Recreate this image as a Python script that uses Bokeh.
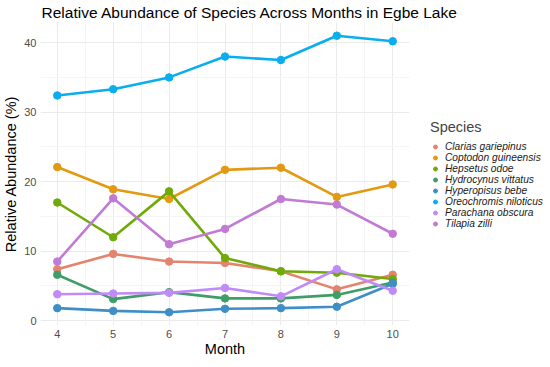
from bokeh.plotting import figure
from bokeh.models import Range1d, FixedTicker, Legend, LegendItem, ColumnDataSource
from bokeh.embed import file_html
from bokeh.resources import INLINE

months = [4, 5, 6, 7, 8, 9, 10]
species = ["Clarias gariepinus", "Coptodon guineensis", "Hepsetus odoe", "Hydrocynus vittatus",
           "Hyperopisus bebe", "Oreochromis niloticus", "Parachana obscura", "Tilapia zilli"]

clarias = [7.4, 9.6, 8.5, 8.3, 7.1, 4.5, 6.6]
coptodon = [22.1, 18.9, 17.5, 21.7, 22.0, 17.8, 19.6]
hepsetus = [17.0, 12.0, 18.6, 9.0, 7.1, 6.9, 6.0]
hydrocynus = [6.6, 3.1, 4.1, 3.2, 3.2, 3.7, 5.5]
hyperopisus = [1.8, 1.4, 1.2, 1.7, 1.8, 2.0, 5.3]
oreochromis = [32.4, 33.3, 35.0, 38.0, 37.5, 41.0, 40.2]
parachana = [3.8, 3.9, 4.0, 4.7, 3.5, 7.4, 4.3]
tilapia = [8.5, 17.6, 11.0, 13.2, 17.5, 16.7, 12.5]

series = [clarias, coptodon, hepsetus, hydrocynus, hyperopisus, oreochromis, parachana, tilapia]
colors = ["#E4846E", "#E39A12", "#6FAA08", "#3F9D66", "#3F8EC6", "#0AAEEE", "#C08AF8", "#C17BD5"]

y_ticks = [0, 10, 20, 30, 40]
x_ticks = months

p = figure(frame_width=369, frame_height=303, output_backend="svg", toolbar_location=None,
           x_range=Range1d(3.7, 10.3), y_range=Range1d(-0.7, 42.9),
           title="Relative Abundance of Species Across Months in Egbe Lake",
           min_border_left=0, min_border_right=0, min_border_top=0, min_border_bottom=1)
p.outline_line_color = None
p.background_fill_color = "white"
p.border_fill_color = "white"

p.title.text_font = "Liberation Sans"
p.title.text_font_size = "15.5px"
p.title.text_font_style = "normal"
p.title.text_color = "#000000"
p.title.align = "left"
p.title.standoff = 3
p.title.offset = 1

p.xaxis.ticker = FixedTicker(ticks=x_ticks, minor_ticks=[3.5, 4.5, 5.5, 6.5, 7.5, 8.5, 9.5, 10.5])
p.yaxis.ticker = FixedTicker(ticks=y_ticks, minor_ticks=[5, 15, 25, 35])

for ax in (p.xaxis[0], p.yaxis[0]):
    ax.axis_line_color = None
    ax.major_tick_line_color = None
    ax.minor_tick_line_color = None
    ax.major_tick_out = 0
    ax.minor_tick_out = 0
    ax.major_tick_in = 0
    ax.minor_tick_in = 0
    ax.major_label_text_font = "Liberation Sans"
    ax.major_label_text_font_size = "11px"
    ax.major_label_text_color = "#4D4D4D"
    ax.axis_label_text_font = "Liberation Sans"
    ax.axis_label_text_font_size = "14.5px"
    ax.axis_label_text_font_style = "normal"
    ax.axis_label_text_color = "#000000"
    ax.major_label_standoff = 4
    ax.axis_label_standoff = 2

p.xaxis.axis_label_standoff = 0
p.xaxis.axis_label = "Month"
p.yaxis.axis_label = "Relative Abundance (%)"

p.xgrid.grid_line_color = "#EBEBEB"
p.ygrid.grid_line_color = "#EBEBEB"
p.xgrid.minor_grid_line_color = "#F4F4F4"
p.ygrid.minor_grid_line_color = "#F4F4F4"

items = []
for name, vals, col in zip(species, series, colors):
    src = ColumnDataSource(dict(x=months, y=vals))
    p.line("x", "y", source=src, line_color=col, line_width=2.6)
    r = p.scatter("x", "y", source=src, size=7.5, fill_color=col, line_color=col)
    items.append(LegendItem(label=name, renderers=[r]))

legend = Legend(items=items, title="Species", location="center_left")
legend.title_text_font = "Liberation Sans"
legend.title_text_font_size = "14.5px"
legend.title_text_font_style = "normal"
legend.title_standoff = 6
legend.label_text_font = "Liberation Sans"
legend.label_text_font_size = "10.2px"
legend.label_text_font_style = "italic"
legend.label_text_color = "#1A1A1A"
legend.label_height = 11
legend.glyph_height = 11
legend.glyph_width = 10
legend.label_standoff = 5
legend.spacing = 0
legend.padding = 2
legend.margin = 21
legend.border_line_color = None
legend.background_fill_alpha = 0
p.add_layout(legend, "right")

open("out.html", "w").write(file_html(p, INLINE))
